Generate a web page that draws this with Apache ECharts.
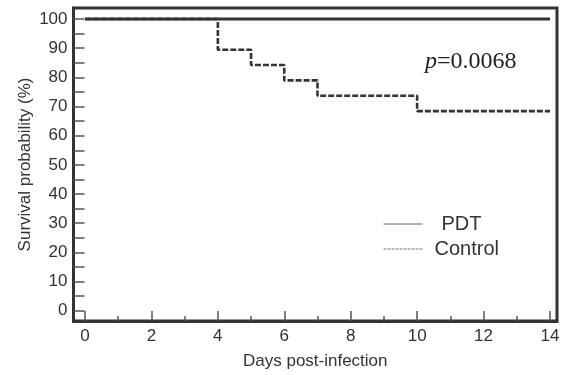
<!DOCTYPE html>
<html>
<head>
<meta charset="utf-8">
<script src="https://cdn.jsdelivr.net/npm/echarts@6/dist/echarts.min.js"></script>
<style>html,body{margin:0;padding:0;background:#fff}#c{width:563px;height:375px}</style>
</head>
<body>
<div id="c"></div>
<script>
var pdtDays = [0, 14];
var pdtSurvival = [100, 100];
var controlDays = [0, 4, 5, 6, 7, 10, 14];
var controlSurvival = [100, 89.47, 84.21, 78.95, 73.68, 68.42, 68.42];
var xMajorTicks = [0, 2, 4, 6, 8, 10, 12, 14];
var xMinorTicks = [1, 3, 5, 7, 9, 11, 13];
var yLabels = [0, 10, 20, 30, 40, 50, 60, 70, 80, 90, 100];
var yTicks = [0, 5, 10, 15, 20, 25, 30, 35, 40, 45, 50, 55, 60, 65, 70, 75, 80, 85, 90, 95, 100];
var pText = '0.0068';

function pairs(xs, ys) { return xs.map(function (x, i) { return [x, ys[i]]; }); }

var chart = echarts.init(document.getElementById('c'), null, {renderer: 'canvas'});
var tickColor = '#555';
var dark = '#333';
chart.setOption({
  animation: false,
  backgroundColor: '#fff',
  grid: {left: 73.5, right: 6, top: 8, bottom: 53, show: true, borderColor: dark, borderWidth: 3, backgroundColor: 'transparent'},
  xAxis: [{
    type: 'value', min: -0.346, max: 14.211,
    name: 'Days post-infection', nameLocation: 'middle', nameGap: 32, nameMoveOverlap: false,
    nameTextStyle: {fontFamily: 'Liberation Sans', fontSize: 17, color: dark},
    axisLine: {show: true, onZero: false, lineStyle: {color: dark, width: 3}},
    axisTick: {show: true, inside: true, length: 10, customValues: xMajorTicks, lineStyle: {color: tickColor, width: 1.5}},
    axisLabel: {show: true, customValues: xMajorTicks, margin: 7, fontFamily: 'Liberation Sans', fontSize: 17, color: dark},
    splitLine: {show: false}
  }, {
    type: 'value', min: -0.346, max: 14.211, position: 'bottom',
    axisLine: {show: false, onZero: false},
    axisTick: {show: true, inside: true, length: 5, customValues: xMinorTicks, lineStyle: {color: tickColor, width: 1.5}},
    axisLabel: {show: false},
    splitLine: {show: false}
  }],
  yAxis: {
    type: 'value', min: -3.52, max: 103.76,
    name: 'Survival probability (%)', nameLocation: 'middle', nameGap: 40, nameMoveOverlap: false,
    nameTextStyle: {fontFamily: 'Liberation Sans', fontSize: 17, color: dark},
    axisLine: {show: true, onZero: false, lineStyle: {color: dark, width: 3}},
    axisTick: {show: true, inside: true, length: 11, customValues: yTicks, lineStyle: {color: tickColor, width: 1.5}},
    axisLabel: {show: true, customValues: yLabels, margin: 6, fontFamily: 'Liberation Sans', fontSize: 17, color: dark},
    splitLine: {show: false}
  },
  legend: {
    orient: 'vertical', left: 383, top: 214, padding: 0, itemGap: 5,
    itemWidth: 39, itemHeight: 14,
    itemStyle: {color: 'transparent', borderWidth: 0, opacity: 0},
    textStyle: {fontFamily: 'Liberation Sans', fontSize: 20, color: dark, lineHeight: 20},
    data: [
      {name: 'PDT', lineStyle: {width: 1, color: '#666', type: 'solid'}, textStyle: {padding: [0, 0, 0, 14]}},
      {name: 'Control', lineStyle: {width: 1, color: '#777', type: [3, 1]}, textStyle: {padding: [0, 0, 0, 7]}}
    ]
  },
  graphic: [{
    type: 'text', left: 425, top: 50,
    style: {
      text: '{i|p}{n|=' + pText + '}',
      rich: {
        i: {fontFamily: 'Liberation Serif', fontStyle: 'italic', fontSize: 24, fill: '#222'},
        n: {fontFamily: 'Liberation Serif', fontSize: 24, fill: '#222'}
      }
    }
  }],
  series: [{
    name: 'Control', type: 'line', xAxisIndex: 0, step: 'end', data: pairs(controlDays, controlSurvival),
    symbol: 'none', lineStyle: {color: dark, width: 2.6, type: [6, 2]}, itemStyle: {color: dark}, z: 2
  }, {
    name: 'PDT', type: 'line', xAxisIndex: 0, data: pairs(pdtDays, pdtSurvival),
    symbol: 'none', lineStyle: {color: dark, width: 3, type: 'solid'}, itemStyle: {color: dark}, z: 4
  }]
});
</script>
</body>
</html>
